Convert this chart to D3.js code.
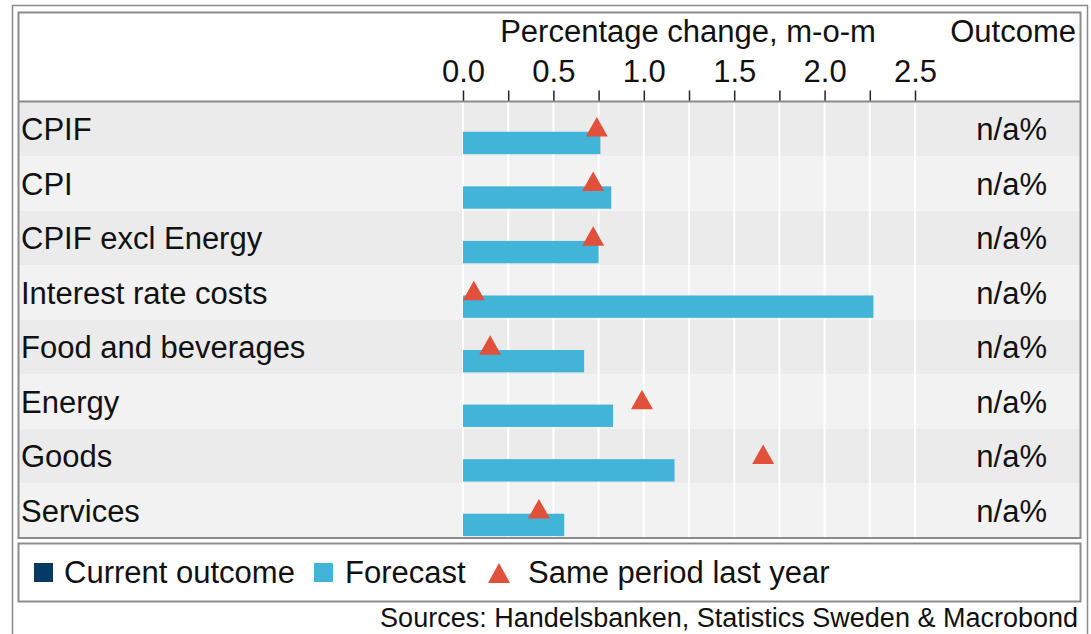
<!DOCTYPE html>
<html>
<head>
<meta charset="utf-8">
<script src="https://cdn.jsdelivr.net/npm/d3@7"></script>
<style>
  body { margin: 0; background: #fff; }
  svg { font-family: "Liberation Sans", Arial, sans-serif; display: block; }
</style>
</head>
<body>
<svg id="chart" width="1091" height="634"></svg>
<script>
// data
var categories = ["CPIF", "CPI", "CPIF excl Energy", "Interest rate costs",
                  "Food and beverages", "Energy", "Goods", "Services"];
var forecast = [0.76, 0.82, 0.75, 2.27, 0.67, 0.83, 1.17, 0.56];
var lastYear = [0.74, 0.72, 0.72, 0.06, 0.15, 0.99, 1.66, 0.42];
var outcome = ["n/a%", "n/a%", "n/a%", "n/a%", "n/a%", "n/a%", "n/a%", "n/a%"];
var tickLabels = [0, 0.5, 1.0, 1.5, 2.0, 2.5];
var gridTicks = [0, 0.25, 0.5, 0.75, 1.0, 1.25, 1.5, 1.75, 2.0, 2.25, 2.5];

var svg = d3.select("#chart");
var panel = {left: 18.5, right: 1080.5, top: 12.5, header: 101.5, bottom: 538};

var xScale = d3.scaleLinear().domain([0, 2.5]).range([463, 915]);
var yScale = d3.scaleBand().domain(categories).range([panel.header, panel.bottom]).paddingInner(0);
var bw = yScale.bandwidth();

// outer frame
svg.append("path")
  .attr("d", "M12.5,640 V5.5 H1087.5 V640")
  .attr("fill", "none").attr("stroke", "#8c8c8c").attr("stroke-width", 1.5);

// row backgrounds
svg.selectAll(".row").data(categories).enter().append("rect")
  .attr("x", panel.left).attr("width", panel.right - panel.left)
  .attr("y", function(d) { return yScale(d); })
  .attr("height", bw)
  .attr("fill", function(d, i) { return i % 2 == 0 ? "#ebebeb" : "#f2f2f2"; });

// gridlines
svg.selectAll(".grid").data(gridTicks).enter().append("line")
  .attr("x1", function(d) { return xScale(d); }).attr("x2", function(d) { return xScale(d); })
  .attr("y1", panel.header).attr("y2", panel.bottom)
  .attr("stroke", "#fff").attr("stroke-width", 2);

// header
svg.append("text").attr("x", 688).attr("y", 42).attr("text-anchor", "middle")
  .attr("font-size", 31).attr("fill", "#111").text("Percentage change, m-o-m");
svg.append("text").attr("x", 1076).attr("y", 42).attr("text-anchor", "end")
  .attr("font-size", 31).attr("fill", "#111").text("Outcome");

var xAxis = d3.axisTop(xScale).tickValues(gridTicks).tickSize(11).tickPadding(9)
  .tickFormat(function(d) { return tickLabels.indexOf(d) >= 0 ? d3.format(".1f")(d) : ""; });
var ax = svg.append("g").attr("transform", "translate(0," + panel.header + ")").call(xAxis);
ax.select(".domain").remove();
ax.selectAll(".tick line").attr("stroke", "#222").attr("stroke-width", 1.5);
ax.selectAll(".tick text").attr("font-size", 31).attr("fill", "#111")
  .attr("font-family", "Liberation Sans, Arial, sans-serif");

// forecast bars
svg.selectAll(".bar").data(categories).enter().append("rect")
  .attr("x", xScale(0))
  .attr("y", function(d) { return yScale(d) + bw * 0.555; })
  .attr("width", function(d, i) { return xScale(forecast[i]) - xScale(0); })
  .attr("height", bw * 0.41)
  .attr("fill", "#42b4d8");

// same period last year
svg.selectAll(".tri").data(categories).enter().append("path")
  .attr("d", function(d, i) {
    var cx = xScale(lastYear[i]), top = yScale(d) + 15.5, base = yScale(d) + 35;
    return "M" + (cx - 11) + "," + base + "L" + (cx + 11) + "," + base + "L" + cx + "," + top + "Z";
  })
  .attr("fill", "#e0503a");

// row labels and outcome column
svg.selectAll(".lab").data(categories).enter().append("text")
  .attr("x", 21).attr("y", function(d) { return yScale(d) + bw * 0.705; })
  .attr("font-size", 31).attr("fill", "#111").text(function(d) { return d; });
svg.selectAll(".out").data(categories).enter().append("text")
  .attr("x", 1047).attr("y", function(d) { return yScale(d) + bw * 0.705; })
  .attr("text-anchor", "end").attr("font-size", 31).attr("fill", "#111")
  .text(function(d, i) { return outcome[i]; });

// panel frame + header line
svg.append("rect").attr("x", panel.left).attr("y", panel.top)
  .attr("width", panel.right - panel.left).attr("height", panel.bottom - panel.top)
  .attr("fill", "none").attr("stroke", "#8c8c8c").attr("stroke-width", 2);
svg.append("line").attr("x1", panel.left).attr("x2", panel.right)
  .attr("y1", panel.header).attr("y2", panel.header)
  .attr("stroke", "#8c8c8c").attr("stroke-width", 2);

// legend
svg.append("rect").attr("x", panel.left).attr("y", 543.5)
  .attr("width", panel.right - panel.left).attr("height", 58)
  .attr("fill", "#fff").attr("stroke", "#8c8c8c").attr("stroke-width", 2);
var leg = svg.append("g");
leg.append("rect").attr("x", 34).attr("y", 563).attr("width", 19).attr("height", 19).attr("fill", "#063a64");
leg.append("text").attr("x", 64).attr("y", 583).attr("font-size", 31).attr("fill", "#111").text("Current outcome");
leg.append("rect").attr("x", 314).attr("y", 563).attr("width", 19).attr("height", 19).attr("fill", "#42b4d8");
leg.append("text").attr("x", 345).attr("y", 583).attr("font-size", 31).attr("fill", "#111").text("Forecast");
leg.append("path").attr("d", "M488,583 L510,583 L499,563 Z").attr("fill", "#e0503a");
leg.append("text").attr("x", 528).attr("y", 583).attr("font-size", 31).attr("fill", "#111").text("Same period last year");

svg.append("text").attr("x", 1078).attr("y", 627).attr("text-anchor", "end")
  .attr("font-size", 27).attr("fill", "#111")
  .text("Sources: Handelsbanken, Statistics Sweden & Macrobond");
</script>
</body>
</html>
